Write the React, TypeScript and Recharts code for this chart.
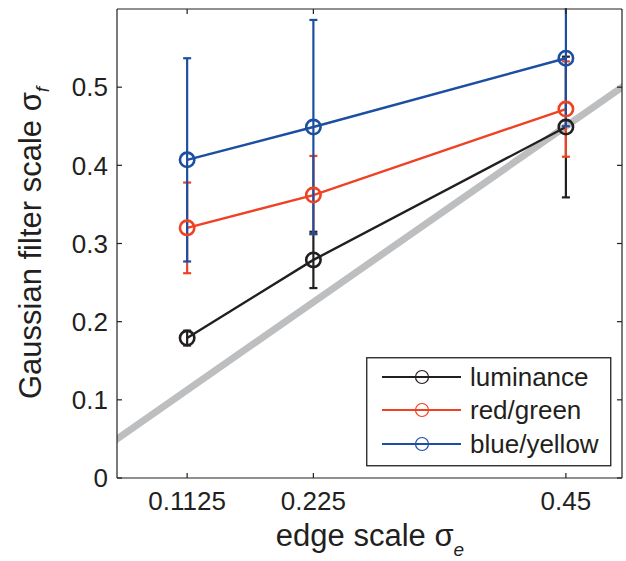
import React from "react";
import {
  LineChart,
  Line,
  XAxis,
  YAxis,
  ErrorBar,
  Legend,
  Label,
} from "recharts";

// edge scale (x) and fitted filter scale (y) per channel, with +/- error
const sigmaE = [0.1125, 0.225, 0.45];
const luminance = [0.179, 0.279, 0.449];
const luminanceErr = [0.0095, 0.036, 0.09];
const redGreen = [0.32, 0.362, 0.472];
const redGreenErr = [0.058, 0.05, 0.061];
const blueYellow = [0.407, 0.449, 0.537];
const blueYellowErr = [0.13, 0.137, 0.087];

// identity line sigma_f = sigma_e
const unityX = [0, 0.6];

const yTicks = [0, 0.1, 0.2, 0.3, 0.4, 0.5];

const FONT = '"Liberation Sans", Arial, Helvetica, sans-serif';
const INK = "#231f20";

const series = [
  { name: "luminance", color: "#231f20", values: luminance, err: luminanceErr },
  { name: "red/green", color: "#ef4123", values: redGreen, err: redGreenErr },
  { name: "blue/yellow", color: "#1c4ea1", values: blueYellow, err: blueYellowErr },
];

const toRows = (values: number[], err: number[]) =>
  sigmaE.map((x, i) => ({ x, y: values[i], e: err[i] }));

const unityRows = unityX.map((v) => ({ x: v, y: v }));

const emptyTick = () => <g />;

const axisLine = { stroke: INK, strokeWidth: 1.2 };
const tickLine = { stroke: INK, strokeWidth: 1.2 };
const tickStyle = { fill: INK, fontSize: 26, fontFamily: FONT };

const XTitle = () => (
  <text x={370} y={538} textAnchor="middle" fontSize={31} fontFamily={FONT} fill={INK}>
    edge scale σ
    <tspan fontSize={19} fontStyle="italic" dy={10}>
      e
    </tspan>
  </text>
);

const YTitle = () => (
  <text
    x={235}
    y={41}
    transform="rotate(-90 235 235)"
    textAnchor="middle"
    fontSize={31}
    fontFamily={FONT}
    fill={INK}
  >
    Gaussian filter scale σ
    <tspan fontSize={19} fontStyle="italic" dy={8}>
      f
    </tspan>
  </text>
);

function LegendBox() {
  const rows = [20, 53, 87];
  return (
    <svg width={246} height={110} style={{ display: "block" }}>
      <rect x={0.75} y={0.75} width={244} height={108} fill="#fff" stroke={INK} strokeWidth={1.3} />
      {series.map((s, i) => (
        <g key={s.name}>
          <line x1={16} x2={95} y1={rows[i]} y2={rows[i]} stroke={s.color} strokeWidth={2.2} />
          <circle cx={56} cy={rows[i]} r={6.5} fill="none" stroke={s.color} strokeWidth={1.2} />
          <text x={104} y={rows[i] + 9} fontSize={26} fontFamily={FONT} fill={INK}>
            {s.name}
          </text>
        </g>
      ))}
    </svg>
  );
}

// the box starts right at the top edge of the plot, so the blue bar that
// runs past 0.6 is cut there
export default function App() {
  return (
    <div
      style={{
        position: "absolute",
        left: 0,
        top: 8,
        width: 626,
        height: 553,
        overflow: "hidden",
      }}
    >
      <LineChart width={626} height={553} margin={{ top: 0, right: 3, bottom: 0, left: 0 }}>
        <XAxis
          dataKey="x"
          type="number"
          domain={[0.05, 0.5]}
          allowDataOverflow
          ticks={sigmaE}
          interval={0}
          height={83}
          tickSize={-5}
          tickMargin={18.5}
          axisLine={axisLine}
          tickLine={tickLine}
          tick={tickStyle}
          tickFormatter={(v) => String(v)}
        >
          <Label content={XTitle} />
        </XAxis>
        <XAxis
          xAxisId="top"
          orientation="top"
          dataKey="x"
          type="number"
          domain={[0.05, 0.5]}
          allowDataOverflow
          ticks={sigmaE}
          interval={0}
          height={1}
          tickSize={-5}
          axisLine={axisLine}
          tickLine={tickLine}
          tick={emptyTick}
        />
        <YAxis
          type="number"
          domain={[0, 0.6]}
          allowDataOverflow
          ticks={yTicks}
          interval={0}
          width={117}
          tickSize={-5}
          tickMargin={14}
          axisLine={axisLine}
          tickLine={tickLine}
          tick={tickStyle}
          tickFormatter={(v) => String(v)}
        >
          <Label content={YTitle} />
        </YAxis>
        <YAxis
          yAxisId="right"
          orientation="right"
          type="number"
          domain={[0, 0.6]}
          allowDataOverflow
          ticks={yTicks}
          interval={0}
          width={1}
          tickSize={-5}
          axisLine={axisLine}
          tickLine={tickLine}
          tick={emptyTick}
        />
        <Line
          data={unityRows}
          dataKey="y"
          stroke="#bdbec0"
          strokeWidth={7}
          dot={false}
          activeDot={false}
          isAnimationActive={false}
          legendType="none"
        />
        {series.map((s) => (
          <Line
            key={s.name}
            name={s.name}
            data={toRows(s.values, s.err)}
            dataKey="y"
            stroke={s.color}
            strokeWidth={2.4}
            dot={{ r: 7.2, fill: "none", stroke: s.color, strokeWidth: 2.6 }}
            activeDot={false}
            isAnimationActive={false}
          >
            <ErrorBar dataKey="e" direction="y" width={4} stroke={s.color} strokeWidth={2.2} />
          </Line>
        ))}
        <Legend
          layout="horizontal"
          verticalAlign="middle"
          align="center"
          content={() => <LegendBox />}
          wrapperStyle={{ left: 366, top: 349, width: 246, height: 110 }}
        />
      </LineChart>
    </div>
  );
}
